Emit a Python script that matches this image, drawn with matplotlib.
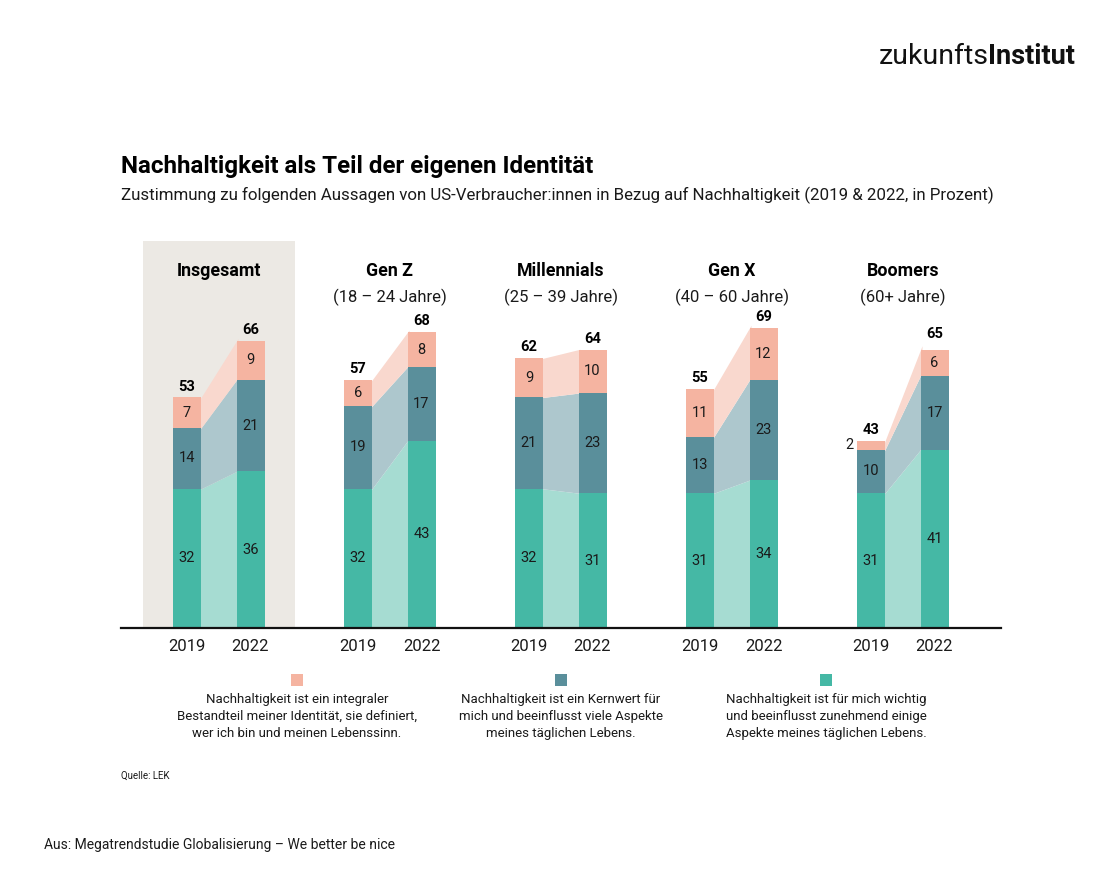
import matplotlib.pyplot as plt

# Werte aus der Grafik (in Prozent)
gruppen = ["Insgesamt", "Gen Z", "Millennials", "Gen X", "Boomers"]
alter = ["", "(18 – 24 Jahre)", "(25 – 39 Jahre)", "(40 – 60 Jahre)", "(60+ Jahre)"]
jahre = ["2019", "2022"]
wichtig_2019 = [32, 32, 32, 31, 31]
wichtig_2022 = [36, 43, 31, 34, 41]
kernwert_2019 = [14, 19, 21, 13, 10]
kernwert_2022 = [21, 17, 23, 23, 17]
identitaet_2019 = [7, 6, 9, 11, 2]
identitaet_2022 = [9, 8, 10, 12, 6]
gesamt_2019 = [53, 57, 62, 55, 43]
gesamt_2022 = [66, 68, 64, 69, 65]

legende = [
    "Nachhaltigkeit ist ein integraler\nBestandteil meiner Identität, sie definiert,\nwer ich bin und meinen Lebenssinn.",
    "Nachhaltigkeit ist ein Kernwert für\nmich und beeinflusst viele Aspekte\nmeines täglichen Lebens.",
    "Nachhaltigkeit ist für mich wichtig\nund beeinflusst zunehmend einige\nAspekte meines täglichen Lebens.",
]

PINK = "#F5B4A1"
TEAL = "#5A8F9B"
GREEN = "#45B8A5"
PINK_L = "#F9D8CE"
TEAL_L = "#ADC7CD"
GREEN_L = "#A6DCD2"
BG = "#ECE9E4"
INK = "#1a1a1a"

plt.rcParams['font.family'] = ['Roboto', 'DejaVu Sans']

W, H = 1120, 894
fig = plt.figure(figsize=(W / 100, H / 100), dpi=100)

def fx(px):
    return px / W

def fy(py):
    return 1 - py / H

# Achse: Grundlinie bei y=628 px, 4.35 px pro Prozentpunkt
base_px = 628
scale = 4.35
ymax = 90
ax = fig.add_axes([fx(121), fy(base_px), (1001 - 121) / W, ymax * scale / H])
ax.set_xlim(0, 880)
ax.set_ylim(0, ymax)
for s in ["top", "right", "left"]:
    ax.spines[s].set_visible(False)
ax.spines["bottom"].set_linewidth(1.6)
ax.spines["bottom"].set_color("#111111")
ax.set_yticks([])
ax.set_facecolor("none")

bw = 28
step = 171
off = 63.5

# Hintergrund für "Insgesamt"
ax.add_patch(plt.Rectangle((143 - 121, 0), 152, 89, color=BG, zorder=0, lw=0))

xticks, xlabels = [], []
for i in range(len(gruppen)):
    x0 = 66 + step * i
    x1 = x0 + off
    segs0 = [wichtig_2019[i], kernwert_2019[i], identitaet_2019[i]]
    segs1 = [wichtig_2022[i], kernwert_2022[i], identitaet_2022[i]]
    cols = [GREEN, TEAL, PINK]
    lcols = [GREEN_L, TEAL_L, PINK_L]
    b0 = b1 = 0
    for v0, v1, c, lc in zip(segs0, segs1, cols, lcols):
        ax.bar(x0, v0, bottom=b0, width=bw, color=c, lw=0, zorder=2)
        ax.bar(x1, v1, bottom=b1, width=bw, color=c, lw=0, zorder=2)
        # Band leicht unter die Balken ziehen, damit keine Lücke bleibt
        xa, xb = x0 + bw / 2, x1 - bw / 2
        ya0, ya1 = b0, b0 + v0
        yb0, yb1 = b1, b1 + v1
        d = 1.5
        k0 = (yb0 - ya0) / (xb - xa)
        k1 = (yb1 - ya1) / (xb - xa)
        ax.fill_between([xa - d, xb + d],
                        [ya0 - k0 * d, yb0 + k0 * d],
                        [ya1 - k1 * d, yb1 + k1 * d],
                        color=lc, lw=0, zorder=1)
        if v0 >= 4:
            ax.text(x0, b0 + v0 / 2, str(v0), ha="center", va="center",
                    fontsize=10.5, color=INK, zorder=3)
        else:
            ax.text(x0 - bw / 2 - 4, b0 + v0 / 2, str(v0), ha="right", va="center",
                    fontsize=10.5, color=INK, zorder=3)
        ax.text(x1, b1 + v1 / 2, str(v1), ha="center", va="center",
                fontsize=10.5, color=INK, zorder=3)
        b0 += v0
        b1 += v1
    ax.text(x0, gesamt_2019[i] + 0.9, str(gesamt_2019[i]), ha="center", va="bottom",
            fontsize=10.5, fontweight="bold", color="#000000")
    ax.text(x1, gesamt_2022[i] + 0.9, str(gesamt_2022[i]), ha="center", va="bottom",
            fontsize=10.5, fontweight="bold", color="#000000")
    xticks += [x0, x1]
    xlabels += jahre
    gx = 121 + (x0 + x1) / 2
    fig.text(fx(gx), fy(271), gruppen[i], ha="center", va="center",
             fontsize=12.8, fontweight="bold", color="#000000")
    if alter[i]:
        fig.text(fx(gx), fy(297), alter[i], ha="center", va="center",
                 fontsize=12, color=INK)

ax.set_xticks(xticks)
ax.set_xticklabels(xlabels, fontsize=12, color=INK)
ax.tick_params(axis="x", length=0, pad=8)

# Titel
fig.text(fx(121), fy(166), "Nachhaltigkeit als Teil der eigenen Identität",
         ha="left", va="center", fontsize=17.4, fontweight="bold", color="#000000")
fig.text(fx(121), fy(195),
         "Zustimmung zu folgenden Aussagen von US-Verbraucher:innen in Bezug auf Nachhaltigkeit (2019 & 2022, in Prozent)",
         ha="left", va="center", fontsize=12.2, color=INK)

# Logo: "zukunfts" direkt links an "Institut"
logo_b = fig.text(fx(1075), fy(57), "Institut", ha="right", va="center",
                  fontsize=19.5, fontweight="bold", color="#111111")
r = fig.canvas.get_renderer()
left_px = logo_b.get_window_extent(renderer=r).x0
fig.text(left_px / W + 0.5 / W, fy(57), "zukunfts", ha="right", va="center",
         fontsize=20.5, color="#111111")

# Legende
for lx, col, txt in zip([297, 561, 826], [PINK, TEAL, GREEN], legende):
    fig.patches.append(plt.Rectangle((fx(lx - 6), fy(686)), 12 / W, 12 / H,
                                     transform=fig.transFigure, color=col, lw=0))
    fig.text(fx(lx), fy(693), txt, ha="center", va="top", fontsize=9.5,
             color=INK, linespacing=1.38)

fig.text(fx(121), fy(776), "Quelle: LEK", ha="left", va="center", fontsize=7, color=INK)
fig.text(fx(44), fy(845), "Aus: Megatrendstudie Globalisierung – We better be nice",
         ha="left", va="center", fontsize=10, color=INK)

fig.savefig("out.png", dpi=100, facecolor="white")
